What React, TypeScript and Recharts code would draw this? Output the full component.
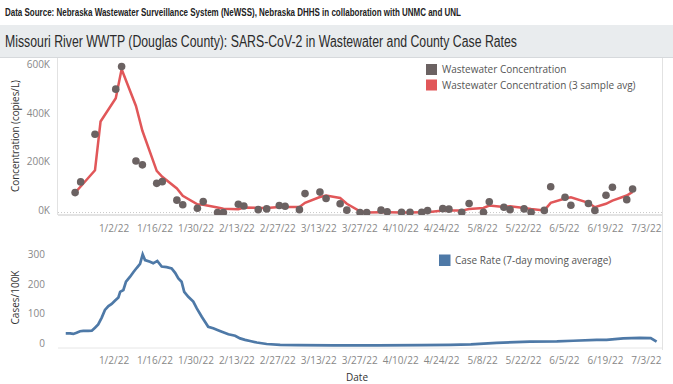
import React from "react";
import { ComposedChart, Line, Scatter, XAxis, YAxis, ReferenceLine } from "recharts";

const FONT = "'Open Sans', sans-serif";
const TITLE_FONT = "'Liberation Sans', Arial, sans-serif";

const DATE_TICKS = [
    "1/2/22", "1/16/22", "1/30/22", "2/13/22", "2/27/22", "3/13/22", "3/27/22",
    "4/10/22", "4/24/22", "5/8/22", "5/22/22", "6/5/22", "6/19/22", "7/3/22",
];

// days counted from 1/2/22
function dayOf(label: string): number {
    const [m, d, y] = label.split("/").map(Number);
    return (Date.UTC(2000 + y, m - 1, d) - Date.UTC(2022, 0, 2)) / 86400000;
}
const TICK_DAYS = DATE_TICKS.map(dayOf);
const tickLabel = (v: number) => DATE_TICKS[TICK_DAYS.indexOf(v)] ?? "";

// wastewater samples (day, copies/L in thousands)
const sampleDays = [
    -13.3, -11.4, -6.5, 0.6, 2.6, 7.5, 9.7, 14.6, 16.5, 21.5, 23.5, 28.5, 30.5, 35.4, 37.4,
    42.5, 44.4, 49.3, 52.2, 56.5, 58.5, 63.4, 65.3, 70.4, 72.5, 77.3, 79.6, 84.1, 86.4, 91.3,
    93.4, 98.3, 101.2, 105.2, 107.2, 112.4, 114.5, 118.9, 121.4, 126.3, 128.3, 133.3, 135.4,
    140.2, 142.6, 147.1, 149.3, 154.2, 156.2, 162.2, 164.4, 168.2, 170.4, 175.3, 177.3,
];
const concentration = [
    82, 126, 322, 507, 600, 212, 196, 120, 127, 51, 32, 18, 45, 0, 0,
    34, 27, 12, 15, 29, 26, 12, 78, 84, 58, 36, 10, 0, 0, 10,
    3, 1, 1, 1, 8, 16, 14, 1, 37, 1, 44, 22, 12,
    15, 1, 9, 106, 63, 30, 37, 9, 71, 104, 53, 97,
];

// 3 sample average
const avgDays = [
    -13.3, -11.4, -6.5, -4.6, 0.6, 2.6, 7.5, 9.7, 14.6, 16.5, 21.5, 23.5, 28.5, 30.5, 35.4,
    37.4, 42.5, 44.4, 49.3, 52.2, 56.5, 58.5, 63.4, 65.3, 70.4, 72.5, 77.3, 79.6, 84.1, 86.4,
    91.3, 93.4, 98.3, 101.2, 105.2, 107.2, 112.4, 114.5, 118.9, 121.4, 126.3, 128.3, 133.3,
    135.4, 140.2, 142.6, 147.1, 149.3, 154.2, 156.2, 162.2, 164.4, 168.2, 170.4, 175.3, 177.3,
];
const avgConcentration = [
    82, 107, 174, 374, 470, 589, 438, 336, 171, 147, 99, 69, 34, 32, 21,
    16, 14, 21, 19, 19, 23, 23, 23, 40, 64, 70, 60, 36, 5, 0,
    1, 1, 0, 0, 1, 1, 8, 8, 8, 15, 19, 29, 23,
    26, 19, 15, 9, 40, 58, 63, 40, 22, 36, 49, 70, 85,
];

// county case rate, 7-day moving average per 100K
const caseDays = [
    -16.5, -15, -13.9, -12.8, -11.6, -10.5, -8.8, -7.6, -6.5, -5.4, -4.2, -3.1, -1.9, -0.8,
    0.3, 1.5, 2.1, 3.2, 4.1, 5.5, 6.6, 7.8, 8.9, 9.8, 10.6, 12.3, 13.4, 14.8, 16.3, 18,
    19.7, 20.9, 22, 23.1, 24, 25.4, 27.1, 28.3, 30, 31.1, 32.2, 33.9, 36.2, 39.1, 41.4,
    43.1, 44.8, 46.5, 48.8, 52.2, 56.8, 63, 75, 90, 105, 115, 122, 130.8, 142.2, 151.4,
    157, 165, 168.4, 174.1, 179.8, 183.5, 185.5,
];
const caseRate = [
    41, 41, 39, 43, 48, 49, 49, 50, 60, 71, 94, 120, 133, 140,
    151, 162, 181, 187, 215, 232, 247, 262, 275, 307, 288, 282, 277, 285, 266, 264,
    260, 245, 226, 215, 181, 164, 148, 125, 97, 80, 63, 58, 49, 38, 33,
    24, 19, 15, 10, 5, 2, 1, 0.5, 0.5, 1, 2, 4, 9, 13, 14,
    16, 19, 19, 24, 26, 25, 13,
];

const concData = sampleDays.map((d, i) => ({ d, v: concentration[i] * 1000 }));
const avgData = avgDays.map((d, i) => ({ d, v: avgConcentration[i] * 1000 }));
const caseData = caseDays.map((d, i) => ({ d, v: caseRate[i] }));

const X_DOMAIN: [number, number] = [-19.15, 187.35];

const YTick = ({ x, y, payload, fmt }: any) => (
    <text x={x} y={y - 2} dy="0.35em" textAnchor="end" fill="#888" fontSize={10} fontFamily={FONT}>
        {fmt(payload.value)}
    </text>
);

const dot = (p: any) => <circle cx={p.cx} cy={p.cy} r={3.8} fill="#6b6262" />;

export default function App() {
    const xTick = { fill: "#888", fontSize: 10, fontFamily: FONT };
    return (
        <div style={{ position: "absolute", left: 0, top: 0, width: 673, height: 384, background: "#fff" }}>
            <div style={{ position: "absolute", left: 0, top: 0 }}>
                <ComposedChart width={673} height={245} margin={{ top: 58, right: 11, bottom: 0, left: 0 }}>
                    <XAxis
                        type="number"
                        dataKey="d"
                        domain={X_DOMAIN}
                        ticks={TICK_DAYS}
                        tickFormatter={tickLabel}
                        interval={0}
                        height={30}
                        tickSize={0}
                        tickMargin={10}
                        axisLine={{ stroke: "#c8c8c8" }}
                        tick={xTick}
                        allowDataOverflow
                    />
                    <YAxis
                        type="number"
                        dataKey="v"
                        domain={[-10000, 635000]}
                        ticks={[0, 200000, 400000, 600000]}
                        width={58}
                        tickSize={0}
                        tickMargin={8}
                        axisLine={false}
                        tick={<YTick fmt={(v: number) => `${v / 1000}K`} />}
                        allowDataOverflow
                    />
                    <ReferenceLine y={0} stroke="#c8c8c8" strokeDasharray="1 2" />
                    <Scatter data={concData} dataKey="v" shape={dot} isAnimationActive={false} />
                    <Line
                        data={avgData}
                        dataKey="v"
                        type="linear"
                        stroke="#e15759"
                        strokeWidth={2.5}
                        dot={false}
                        isAnimationActive={false}
                    />
                </ComposedChart>
            </div>

            <div style={{ position: "absolute", left: 0, top: 240 }}>
                <ComposedChart width={673} height={144} margin={{ top: 10, right: 11, bottom: 0, left: 0 }}>
                    <XAxis
                        type="number"
                        dataKey="d"
                        domain={X_DOMAIN}
                        ticks={TICK_DAYS}
                        tickFormatter={tickLabel}
                        interval={0}
                        height={36}
                        tickSize={0}
                        tickMargin={9}
                        axisLine={{ stroke: "#e6e6e6" }}
                        tick={xTick}
                        allowDataOverflow
                    />
                    <YAxis
                        type="number"
                        dataKey="v"
                        domain={[-8.4, 321.9]}
                        ticks={[0, 100, 200, 300]}
                        width={58}
                        tickSize={0}
                        tickMargin={13}
                        axisLine={false}
                        tick={<YTick fmt={(v: number) => `${v}`} />}
                        allowDataOverflow
                    />
                    <Line
                        data={caseData}
                        dataKey="v"
                        type="linear"
                        stroke="#4e79a7"
                        strokeWidth={2.7}
                        dot={false}
                        isAnimationActive={false}
                    />
                </ComposedChart>
            </div>

            {/* titles, borders, legends */}
            <svg width={673} height={384} style={{ position: "absolute", left: 0, top: 0, pointerEvents: "none" }}>
                <text x={5} y={15.5} fontSize={11} fontWeight="bold" fill="#222" fontFamily={TITLE_FONT}
                    textLength={456} lengthAdjust="spacingAndGlyphs">
                    Data Source: Nebraska Wastewater Surveillance System (NeWSS), Nebraska DHHS in collaboration with UNMC and UNL
                </text>
                <rect x={0} y={25} width={673} height={32} fill="#e9ecee" />
                <line x1={0} x2={673} y1={57.5} y2={57.5} stroke="#d6d9dc" />
                <text x={5} y={46.5} fontSize={15.8} fill="#2b2b2b" fontFamily={TITLE_FONT}
                    textLength={512} lengthAdjust="spacingAndGlyphs">
                    Missouri River WWTP (Douglas County): SARS-CoV-2 in Wastewater and County Case Rates
                </text>
                <line x1={57.5} x2={57.5} y1={58} y2={215} stroke="#e2e2e2" />
                <line x1={662.5} x2={662.5} y1={58} y2={350} stroke="#e2e2e2" />

                <text transform="translate(15,136) rotate(-90)" textAnchor="middle" dy="0.35em" fontSize={10}
                    fill="#333" fontFamily={FONT} textLength={112} lengthAdjust="spacingAndGlyphs">
                    Concentration (copies/L)
                </text>
                <text transform="translate(15,297.5) rotate(-90)" textAnchor="middle" dy="0.35em" fontSize={10}
                    fill="#333" fontFamily={FONT}>
                    Cases/100K
                </text>
                <text x={357} y={377} textAnchor="middle" dy="0.35em" fontSize={10} fill="#333" fontFamily={FONT}>
                    Date
                </text>

                <rect x={426} y={64} width={11} height={11} fill="#6b6262" />
                <text x={442} y={69.5} dy="0.35em" fontSize={10} fill="#555" fontFamily={FONT}>
                    Wastewater Concentration
                </text>
                <rect x={426} y={79.5} width={11} height={11} fill="#e15759" />
                <text x={442} y={85} dy="0.35em" fontSize={10} fill="#555" fontFamily={FONT}>
                    Wastewater Concentration (3 sample avg)
                </text>
                <rect x={439} y={254.5} width={11.5} height={11.5} fill="#4e79a7" />
                <text x={455} y={260.5} dy="0.35em" fontSize={10} fill="#555" fontFamily={FONT}>
                    Case Rate (7-day moving average)
                </text>
            </svg>
        </div>
    );
}
